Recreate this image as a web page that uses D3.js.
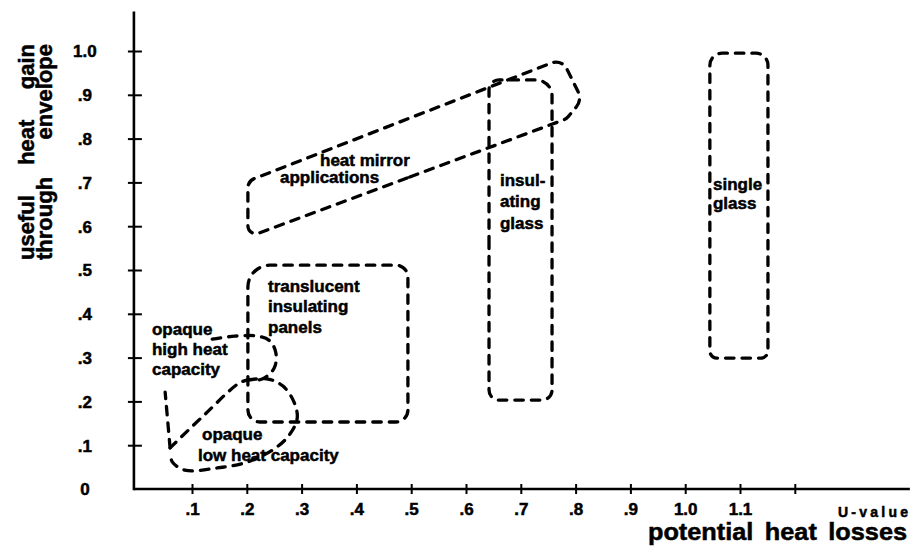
<!DOCTYPE html>
<html><head><meta charset="utf-8">
<script src="https://cdn.jsdelivr.net/npm/d3@7"></script>
<style>
html,body{margin:0;padding:0;background:#fff;}
svg{display:block;}
</style></head><body>
<svg id="chart" width="913" height="553"></svg>
<script>
// ---------- data ----------
const xTickValues = [0.1,0.2,0.3,0.4,0.5,0.6,0.7,0.8,0.9,1.0,1.1,1.2];
const xTickLabels = [".1",".2",".3",".4",".5",".6",".7",".8",".9","1.0","1.1",""];
const yTickValues = [0,0.1,0.2,0.3,0.4,0.5,0.6,0.7,0.8,0.9,1.0];
const yTickLabels = ["0",".1",".2",".3",".4",".5",".6",".7",".8",".9","1.0"];

// regions: [U-value, useful heat gain] outline vertices
const singleGlass = [[1.045,0.299],[1.151,0.299],[1.151,0.995],[1.045,0.995]];
const insulatingGlass = [[0.642,0.203],[0.757,0.203],[0.757,0.934],[0.642,0.934]];
const heatMirror = [[0.202,0.575],[0.202,0.703],[0.775,0.982],[0.812,0.888],[0.783,0.845]];
const translucentPanels = [[0.202,0.153],[0.494,0.153],[0.494,0.511],[0.202,0.511]];
const opaqueHighHeatLoop = [[0.137,0.342],[0.178,0.349],[0.220,0.349],[0.242,0.338],[0.253,0.311],[0.250,0.276],[0.228,0.251],[0.202,0.249],[0.184,0.240],[0.124,0.171],[0.060,0.094]];
const opaqueHighHeatStem = [[0.060,0.094],[0.051,0.221]];
const opaqueLowHeat = [[0.202,0.249],[0.239,0.251],[0.266,0.235],[0.286,0.199],[0.292,0.162],[0.279,0.126],[0.253,0.094],[0.202,0.062],[0.146,0.048],[0.087,0.043],[0.064,0.062],[0.060,0.084]];

const annotations = [
  {text:"heat mirror", x:0.3336, y:0.7374},
  {text:"applications", x:0.2606, y:0.6986},
  {text:"insul-", x:0.6620, y:0.6918},
  {text:"ating", x:0.6620, y:0.6438},
  {text:"glass", x:0.6620, y:0.5936},
  {text:"single", x:1.0507, y:0.6826},
  {text:"glass", x:1.0507, y:0.6393},
  {text:"translucent", x:0.2387, y:0.4498},
  {text:"insulating", x:0.2387, y:0.4041},
  {text:"panels", x:0.2387, y:0.3562},
  {text:"opaque", x:0.0270, y:0.3516},
  {text:"high heat", x:0.0270, y:0.3059},
  {text:"capacity", x:0.0270, y:0.2603},
  {text:"opaque", x:0.1183, y:0.1119},
  {text:"low heat capacity", x:0.1109, y:0.0639}
];
const yTitleLines = ["useful heat gain", "through envelope"];
const xTitle = "potential heat losses";
const xUnit = "U-value";

// ---------- layout ----------
const FONT = '"Liberation Sans", Arial, Helvetica, sans-serif';
const svg = d3.select("#chart");
const x = d3.scaleLinear().domain([0,1.2]).range([137.2,794.8]);
const y = d3.scaleLinear().domain([0,1]).range([489,51]);
const xAxisMin = -0.006, xAxisMax = 1.41, yAxisMax = 1.09;

function roundedPolygon(pts, radii){
  const P = pts.map(d => [x(d[0]), y(d[1])]);
  const n = P.length, p = d3.path();
  p.moveTo((P[n-1][0]+P[0][0])/2, (P[n-1][1]+P[0][1])/2);
  for (let i=0;i<n;i++){
    const a = P[(i-1+n)%n], c = P[i], b = P[(i+1)%n];
    const v1 = [a[0]-c[0], a[1]-c[1]], v2 = [b[0]-c[0], b[1]-c[1]];
    const L1 = Math.hypot(...v1), L2 = Math.hypot(...v2);
    const cos = (v1[0]*v2[0]+v1[1]*v2[1])/(L1*L2);
    const th = Math.acos(Math.max(-1,Math.min(1,cos)));
    const tanH = Math.tan(th/2);
    let rr = Array.isArray(radii) ? radii[i] : radii;
    const maxT = 0.48*Math.min(L1,L2);
    if (rr/tanH > maxT) rr = maxT*tanH;
    p.arcTo(c[0], c[1], b[0], b[1], rr);
  }
  p.closePath();
  return p.toString();
}
const curveLine = d3.line().x(d=>x(d[0])).y(d=>y(d[1])).curve(d3.curveCatmullRom.alpha(0.5));
const straightLine = d3.line().x(d=>x(d[0])).y(d=>y(d[1]));

const dashStyle = s => s.attr("fill","none").attr("stroke","#000").attr("stroke-width",3.3)
  .attr("stroke-dasharray","8.5,8").attr("stroke-linecap","round").attr("stroke-linejoin","round");

const shapes = svg.append("g");
shapes.append("path").attr("d", roundedPolygon(singleGlass, [7,7,12,12])).call(dashStyle);
shapes.append("path").attr("d", roundedPolygon(insulatingGlass, [10,10,16,10])).call(dashStyle);
shapes.append("path").attr("d", roundedPolygon(heatMirror, [8,10,12,14,10])).call(dashStyle);
shapes.append("path").attr("d", roundedPolygon(translucentPanels, [12,12,12,22])).call(dashStyle);
shapes.append("path").attr("d", curveLine(opaqueHighHeatLoop)).call(dashStyle);
shapes.append("path").attr("d", straightLine(opaqueHighHeatStem)).call(dashStyle);
shapes.append("path").attr("d", curveLine(opaqueLowHeat)).call(dashStyle);

// axes lines
svg.append("line").attr("x1", x(xAxisMin)).attr("x2", x(xAxisMax)).attr("y1", y(0)).attr("y2", y(0))
  .attr("stroke","#000").attr("stroke-width",2.6);
svg.append("line").attr("x1", x(xAxisMin)).attr("x2", x(xAxisMin)).attr("y1", y(0)+1.3).attr("y2", y(yAxisMax))
  .attr("stroke","#000").attr("stroke-width",2.6);

const heavy = s => s.attr("stroke","#000").attr("stroke-width",0.5).attr("paint-order","stroke");

// x axis ticks
const gx = svg.append("g").attr("transform", `translate(0,${y(0)})`)
  .call(d3.axisBottom(x).tickValues(xTickValues).tickFormat((d,i)=>xTickLabels[i]).tickSize(5));
gx.select(".domain").remove();
gx.attr("font-family", FONT).attr("font-size", 17).attr("font-weight","bold");
gx.selectAll(".tick line").attr("y1",-5).attr("y2",5).attr("stroke-width",2);
gx.selectAll(".tick text").attr("y",20.5).attr("dy","0.35em").attr("fill","#000").call(heavy);

// y axis ticks
const gy = svg.append("g").attr("transform", `translate(${x(xAxisMin)},0)`)
  .call(d3.axisLeft(y).tickValues(yTickValues).tickFormat((d,i)=>yTickLabels[i]).tickSize(6));
gy.select(".domain").remove();
gy.attr("font-family", FONT).attr("font-size", 17).attr("font-weight","bold");
gy.selectAll(".tick line").attr("x1",-6).attr("x2",8).attr("stroke-width",2)
  .attr("display", d => d === 0 ? "none" : null);
gy.selectAll(".tick text").attr("x",-49).attr("text-anchor","middle").attr("dy","0.35em").attr("fill","#000").call(heavy);

// justified multi-word text: words spread to fill a given length (centred on the origin)
function justified(parent, str, total, transform, size){
  const t = parent.append("text").attr("transform", transform)
    .attr("font-family",FONT).attr("font-weight","bold").attr("font-size",size).attr("fill","#000").call(heavy);
  const words = str.split(" ");
  const spans = words.map(w => t.append("tspan").text(w));
  const widths = spans.map(s => s.node().getComputedTextLength());
  const gap = (total - d3.sum(widths)) / Math.max(1, words.length-1);
  let pos = -total/2;
  spans.forEach((s,i) => { s.attr("x", pos).attr("y", 0); pos += widths[i] + gap; });
  return t;
}
justified(svg, yTitleLines[0], 216, "translate(34,152) rotate(-90)", 22);
justified(svg, yTitleLines[1], 216, "translate(52,152) rotate(-90)", 22);
justified(svg, xTitle, 235.5, "translate(777.5,540) scale(1.1,1)", 23);

svg.append("text").attr("x",908).attr("y",517).attr("text-anchor","end")
  .attr("font-family",FONT).attr("font-weight","bold").attr("font-size",14)
  .attr("textLength",70).attr("lengthAdjust","spacing").call(heavy).text(xUnit);

// region labels
svg.append("g").attr("font-family",FONT).attr("font-weight","bold").attr("font-size",17).attr("fill","#000")
  .selectAll("text").data(annotations).join("text")
  .attr("x", d => x(d.x)).attr("y", d => y(d.y)).call(heavy).text(d => d.text);
</script>
</body></html>
